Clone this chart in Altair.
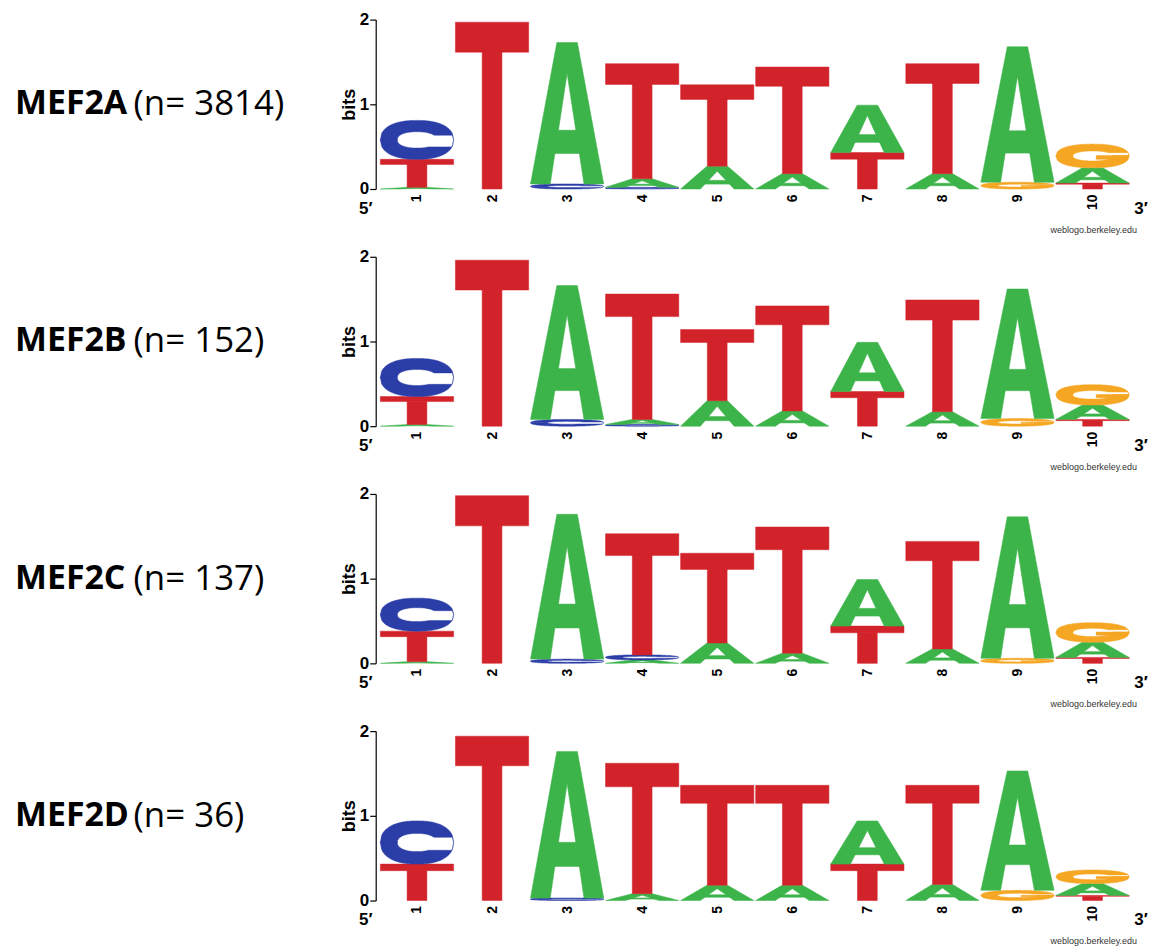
import altair as alt
import numpy as np
import pandas as pd

# ---------------- data (information content in bits, read from the logos) ----
panel_names = ["MEF2A", "MEF2B", "MEF2C", "MEF2D"]
panel_counts = ["(n= 3814)", "(n= 152)", "(n= 137)", "(n= 36)"]
positions = [1, 2, 3, 4, 5, 6, 7, 8, 9, 10]
bit_ticks = [0, 1, 2]
letters = ["A", "C", "G", "T"]
letter_colors = ["#3CB44A", "#2B3DA6", "#F5A623", "#D2222A"]

mef2a_A = [0.02, 0.00, 1.67, 0.10, 0.27, 0.18, 0.56, 0.18, 1.60, 0.18]
mef2a_C = [0.46, 0.00, 0.06, 0.02, 0.00, 0.00, 0.00, 0.00, 0.00, 0.00]
mef2a_G = [0.00, 0.00, 0.00, 0.00, 0.00, 0.00, 0.00, 0.00, 0.08, 0.28]
mef2a_T = [0.33, 1.97, 0.00, 1.36, 0.96, 1.26, 0.43, 1.30, 0.00, 0.07]

mef2b_A = [0.02, 0.00, 1.58, 0.06, 0.30, 0.18, 0.58, 0.17, 1.53, 0.17]
mef2b_C = [0.45, 0.00, 0.08, 0.02, 0.00, 0.00, 0.00, 0.00, 0.00, 0.00]
mef2b_G = [0.00, 0.00, 0.00, 0.00, 0.00, 0.00, 0.00, 0.00, 0.09, 0.24]
mef2b_T = [0.33, 1.96, 0.00, 1.48, 0.84, 1.24, 0.41, 1.32, 0.00, 0.08]

mef2c_A = [0.02, 0.00, 1.71, 0.04, 0.24, 0.12, 0.55, 0.17, 1.67, 0.18]
mef2c_C = [0.39, 0.00, 0.05, 0.06, 0.00, 0.00, 0.00, 0.00, 0.00, 0.00]
mef2c_G = [0.00, 0.00, 0.00, 0.00, 0.00, 0.00, 0.00, 0.00, 0.06, 0.23]
mef2c_T = [0.36, 1.98, 0.00, 1.43, 1.06, 1.49, 0.44, 1.27, 0.00, 0.07]

mef2d_A = [0.00, 0.00, 1.73, 0.08, 0.18, 0.18, 0.51, 0.19, 1.41, 0.14]
mef2d_C = [0.51, 0.00, 0.03, 0.00, 0.00, 0.00, 0.00, 0.00, 0.00, 0.00]
mef2d_G = [0.00, 0.00, 0.00, 0.00, 0.00, 0.00, 0.00, 0.00, 0.12, 0.16]
mef2d_T = [0.43, 1.94, 0.00, 1.54, 1.18, 1.18, 0.43, 1.17, 0.00, 0.06]

panel_heights = [
    {"A": mef2a_A, "C": mef2a_C, "G": mef2a_G, "T": mef2a_T},
    {"A": mef2b_A, "C": mef2b_C, "G": mef2b_G, "T": mef2b_T},
    {"A": mef2c_A, "C": mef2c_C, "G": mef2c_G, "T": mef2c_T},
    {"A": mef2d_A, "C": mef2d_C, "G": mef2d_G, "T": mef2d_T},
]

# ---------------- letter outlines (unit box), split into x-monotone pieces ----
def _se(u, n):
    return np.clip(1.0 - np.abs(u) ** n, 0.0, None) ** (1.0 / n)


def glyph_pieces(letter):
    if letter == "T":
        return [
            [(0.0, 0.82, 1.0), (1.0, 0.82, 1.0)],
            [(0.365, 0.0, 0.83), (0.635, 0.0, 0.83)],
        ]
    if letter == "A":
        return [
            [(0.0, 0.0, 0.0), (0.27, 0.0, 0.75), (0.36, 0.305, 1.0), (0.5, 0.78, 1.0),
             (0.64, 0.305, 1.0), (0.73, 0.0, 0.75), (1.0, 0.0, 0.0)],
            [(0.30, 0.215, 0.38), (0.70, 0.215, 0.38)],
        ]
    # C and G: super-elliptic ring with an opening on the right
    n_out, n_in = 2.3, 2.2
    rxi, ryi = 0.27, 0.21
    gap_top = 0.62 if letter == "C" else 0.64
    gap_bot = 0.32
    xs = np.unique(np.concatenate([np.linspace(0, 1, 61), [0.5 - rxi, 0.5 + rxi]]))
    upper, lower = [], []
    for x in xs:
        ot = 0.5 + 0.5 * _se((x - 0.5) / 0.5, n_out)
        ob = 1.0 - ot
        inside = abs(x - 0.5) < rxi
        it = 0.5 + ryi * _se((x - 0.5) / rxi, n_in) if inside else 0.49
        ib = 0.5 - ryi * _se((x - 0.5) / rxi, n_in) if inside else 0.51
        if x > 0.5:
            lo_u = max(it, gap_top)
            if letter == "C":
                hi_l = min(ib, gap_bot)
            else:
                hi_l = ib if inside else 0.52
        else:
            lo_u, hi_l = it, ib
        lo_u = min(lo_u, ot)
        hi_l = max(hi_l, ob)
        upper.append((float(x), float(lo_u), float(ot)))
        lower.append((float(x), float(ob), float(hi_l)))
    pieces = [upper, lower]
    if letter == "G":
        pieces.append([(0.55, 0.36, 0.52), (0.985, 0.36, 0.52)])
    return pieces


GLYPHS = {l: glyph_pieces(l) for l in letters}
MARGIN = 0.012


def logo_rows(heights):
    rows = []
    for i, p in enumerate(positions):
        stack = sorted([(heights[l][i], l) for l in letters if heights[l][i] > 0])
        base = 0.0
        for h, l in stack:
            for k, piece in enumerate(GLYPHS[l]):
                pid = f"{p}-{l}-{k}"
                for (ux, ylo, yhi) in piece:
                    rows.append({
                        "piece": pid,
                        "letter": l,
                        "x": p - 0.5 + MARGIN + ux * (1 - 2 * MARGIN),
                        "y": base + ylo * h,
                        "y2": base + yhi * h,
                    })
            base += h
    return pd.DataFrame(rows)


# ---------------- chart ------------------------------------------------------
PLOT_W, PLOT_H = 757, 170
AXIS_FONT = "Liberation Sans"
LABEL_FONT = "Open Sans"

color_scale = alt.Scale(domain=letters, range=letter_colors)
no_border = alt.ViewBackground(stroke="transparent", strokeWidth=0)


def panel(idx):
    df = logo_rows(panel_heights[idx])
    logo = alt.Chart(df).mark_area(orient="vertical", strokeWidth=0.5).encode(
        x=alt.X("x:Q",
                scale=alt.Scale(domain=[0.45, 10.5], nice=False, zero=False),
                axis=alt.Axis(values=positions, labelAngle=270, domain=False, ticks=False,
                              grid=False, title=None, labelFont=AXIS_FONT,
                              labelFontWeight="bold", labelFontSize=14,
                              labelColor="black", labelPadding=5, tickCount=10,
                              labelOverlap=False,
                              labelExpr="format(datum.value, 'd')")),
        y=alt.Y("y:Q",
                scale=alt.Scale(domain=[0, 2], nice=False, zero=True),
                axis=alt.Axis(values=bit_ticks, tickCount=3, title="bits", grid=False,
                              domainColor="black", domainWidth=1.2,
                              tickColor="black", tickSize=6, tickWidth=1.2,
                              labelFont=AXIS_FONT, labelFontWeight="bold",
                              labelFontSize=17, labelColor="black", labelPadding=1,
                              labelOverlap=False, labelFlush=False,
                              labelExpr="format(datum.value, 'd')",
                              titleFont=AXIS_FONT, titleFontWeight="bold",
                              titleFontSize=18, titleColor="black", titlePadding=1)),
        y2="y2:Q",
        detail="piece:N",
        color=alt.Color("letter:N", scale=color_scale, legend=None),
        stroke=alt.Stroke("letter:N", scale=color_scale, legend=None),
    )
    one = pd.DataFrame({"t": [panel_names[idx]], "n": [panel_counts[idx]]})
    name_bold = alt.Chart(one).mark_text(
        align="left", baseline="middle", font=LABEL_FONT, fontWeight="bold",
        fontSize=34, color="black").encode(
        x=alt.value(-362), y=alt.value(PLOT_H / 2), text="t:N")
    name_n = alt.Chart(one).mark_text(
        align="left", baseline="middle", font=LABEL_FONT, fontSize=35,
        color="black").encode(
        x=alt.value(-243), y=alt.value(PLOT_H / 2), text="n:N")
    ends = pd.DataFrame({"t": ["5\u2032", "3\u2032"], "px": [-10, 768]})
    end_txt = alt.Chart(ends).mark_text(
        align="center", baseline="middle", font=AXIS_FONT, fontWeight="bold",
        fontSize=17, color="black").encode(
        x=alt.X("px:Q", scale=None), y=alt.value(PLOT_H + 20), text="t:N")
    credit = alt.Chart(pd.DataFrame({"t": ["weblogo.berkeley.edu"]})).mark_text(
        align="right", baseline="middle", font=AXIS_FONT, fontSize=9,
        color="#333333").encode(
        x=alt.value(764), y=alt.value(PLOT_H + 41), text="t:N")
    return alt.layer(logo, name_bold, name_n, end_txt, credit).properties(
        width=PLOT_W, height=PLOT_H, view=no_border)


chart = alt.vconcat(*[panel(i) for i in range(4)], spacing=68, bounds="flush").properties(
    padding={"left": 7, "top": 1, "right": 2, "bottom": 2}
).configure_view(stroke="transparent", strokeWidth=0).configure(background="white")

chart.save("out.html", embed_options={"renderer": "svg", "actions": False})
